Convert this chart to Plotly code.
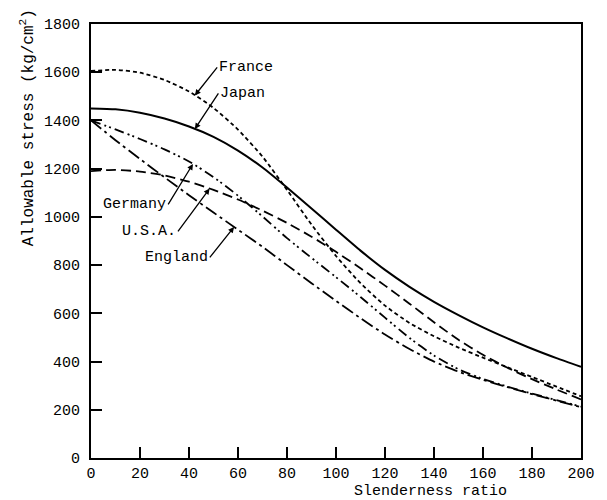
import numpy as np
import plotly.graph_objects as go

# Slenderness ratio
slenderness = [0, 10, 20, 30, 40, 50, 60, 70, 80, 90, 100,
               110, 120, 130, 140, 150, 160, 170, 180, 190, 200]

# Allowable stress (kg/cm2)
japan = [1450, 1446, 1432, 1408, 1375, 1332, 1275, 1205, 1122, 1035, 947,
         860, 780, 710, 648, 593, 542, 496, 453, 414, 378]
france = [1605, 1610, 1598, 1568, 1520, 1452, 1362, 1250, 1112, 968, 838,
          725, 632, 560, 505, 458, 416, 376, 336, 296, 256]
usa = [1190, 1195, 1188, 1172, 1146, 1112, 1072, 1026, 975, 918, 855,
       787, 715, 640, 563, 490, 428, 374, 327, 284, 243]
germany = [1400, 1363, 1323, 1280, 1230, 1165, 1088, 1002, 912, 830, 750,
           668, 582, 498, 425, 368, 328, 296, 267, 240, 213]
england = [1400, 1318, 1240, 1164, 1090, 1018, 947, 876, 800, 725, 652,
           580, 512, 452, 400, 358, 324, 294, 265, 238, 211]

x_ticks = [0, 20, 40, 60, 80, 100, 120, 140, 160, 180, 200]
y_ticks = [0, 200, 400, 600, 800, 1000, 1200, 1400, 1600, 1800]

FONT = "Liberation Mono"

series = [
    ("Japan", japan, "solid", 2.0),
    ("France", france, "4px,3px", 1.8),
    ("U.S.A.", usa, "10px,5px", 1.8),
    ("Germany", germany, "10px,4px,2px,3px,2px,4px", 1.8),
    ("England", england, "13px,4px,3px,4px", 1.8),
]

fig = go.Figure()
for name, vals, dash, w in series:
    fig.add_trace(go.Scatter(
        x=slenderness, y=vals, mode="lines", name=name,
        line=dict(color="black", width=w, dash=dash, shape="spline", smoothing=0.6),
        showlegend=False, hoverinfo="skip"))

# label: text, series, arrow tail (data), side of text attached to tail, arrow tip x
labels = [
    ("France", france, (51.5, 1620), "left", 42.4),
    ("Japan", japan, (52.0, 1512), "left", 42.4),
    ("Germany", germany, (31.5, 1052), "right", 41.6),
    ("U.S.A.", usa, (35.5, 940), "right", 48.4),
    ("England", england, (48.5, 832), "right", 58.4),
]
for text, vals, (ax, ay), side, tipx in labels:
    tipy = float(np.interp(tipx, slenderness, vals))
    fig.add_annotation(x=tipx, y=tipy, ax=ax, ay=ay, xref="x", yref="y",
                       axref="x", ayref="y", text=text, showarrow=True,
                       xanchor=side, yanchor="middle",
                       font=dict(family=FONT, size=15, color="black"),
                       arrowhead=2, arrowsize=0.9, arrowwidth=1.3, arrowcolor="black")

fig.add_annotation(x=(437 - 91) / (591 - 91), y=-0.077, xref="paper", yref="paper",
                   text="Slenderness ratio", showarrow=False, xanchor="center",
                   yanchor="middle", font=dict(family=FONT, size=15, color="black"))
fig.add_annotation(x=-0.128, y=(458 - 128) / (458 - 24), xref="paper", yref="paper",
                   text="Allowable stress (kg/cm<sup>2</sup>)", showarrow=False,
                   textangle=-90, xanchor="center", yanchor="middle",
                   font=dict(family=FONT, size=16, color="black"))

axis_common = dict(showgrid=False, zeroline=False, showline=True, linecolor="black",
                   linewidth=2, mirror=True, ticks="inside", ticklen=11, tickwidth=1.5,
                   tickcolor="black",
                   tickfont=dict(family=FONT, size=15, color="black"))

fig.update_xaxes(range=[0, 200], tickvals=x_ticks, ticktext=[str(v) for v in x_ticks],
                 **axis_common)
fig.update_yaxes(range=[0, 1800], tickvals=y_ticks, ticktext=[str(v) for v in y_ticks],
                 ticklabelstandoff=6, **axis_common)

fig.update_layout(width=607, height=500, margin=dict(l=91, r=16, t=24, b=42),
                  plot_bgcolor="white", paper_bgcolor="white")

fig.write_html("out.html")
